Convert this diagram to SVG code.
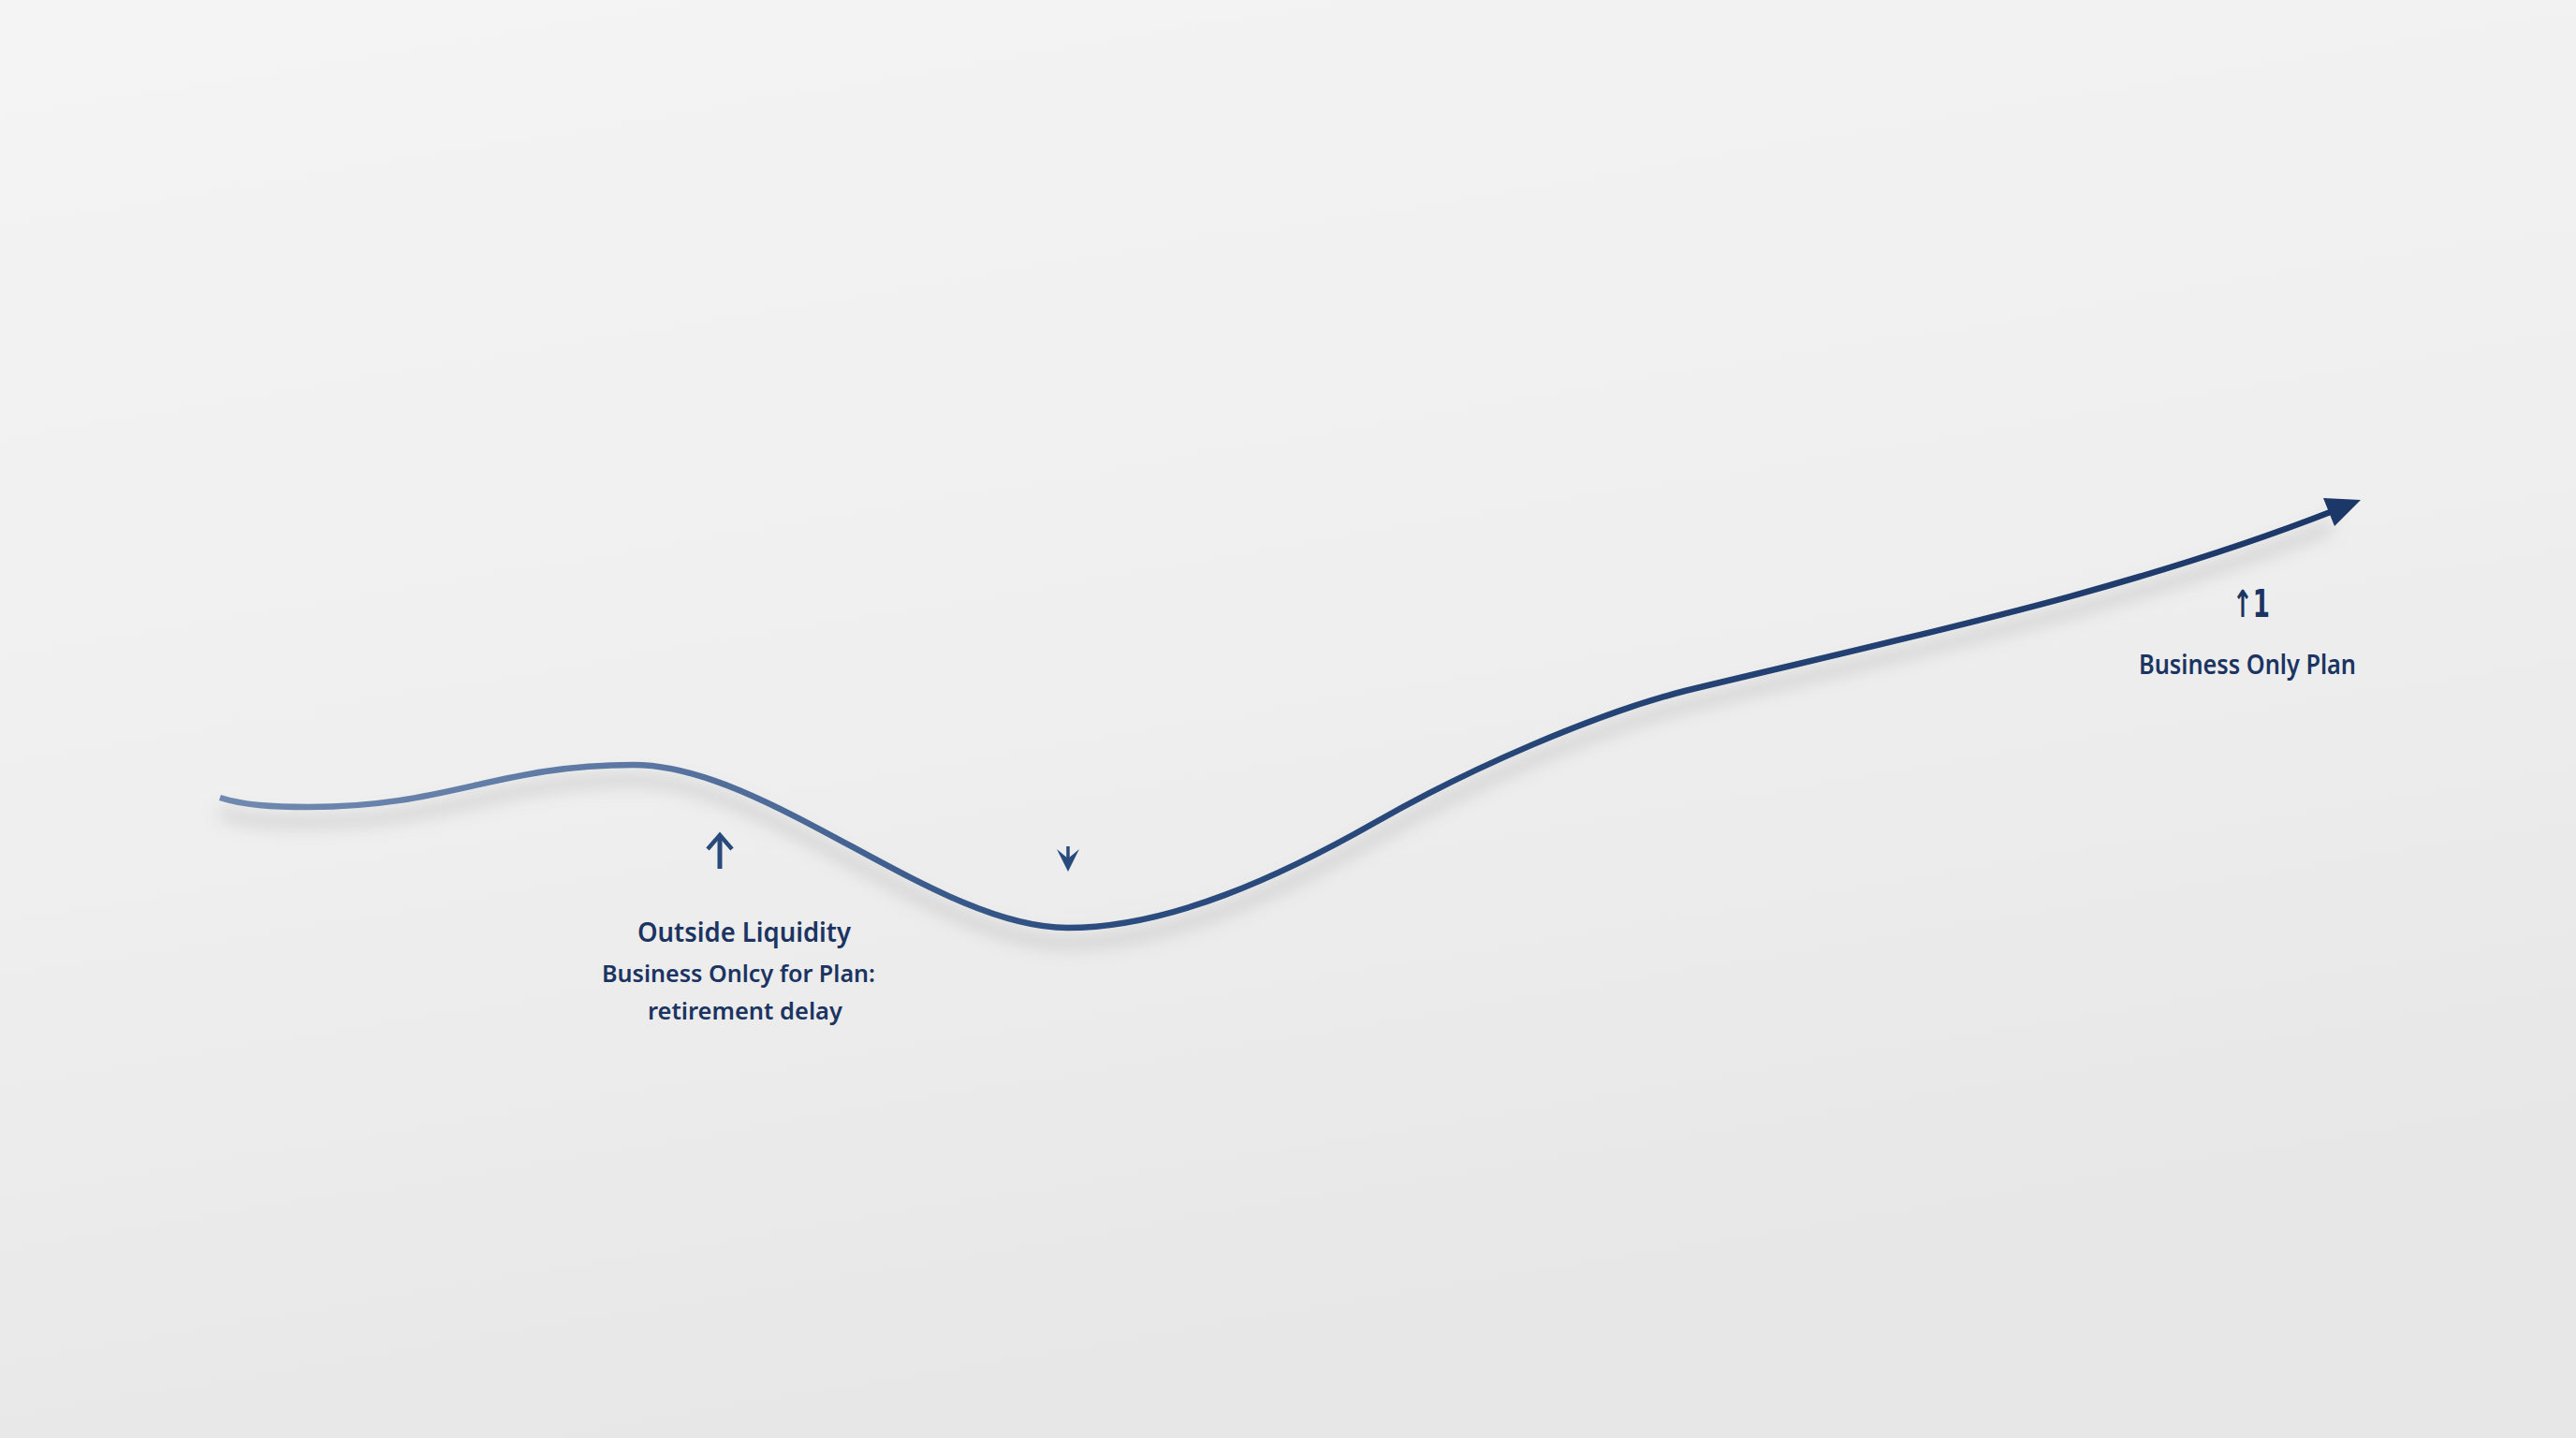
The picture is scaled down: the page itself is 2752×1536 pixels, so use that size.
<svg xmlns="http://www.w3.org/2000/svg" width="2752" height="1536" viewBox="0 0 2752 1536">
  <defs>
    <linearGradient id="bg" x1="0" y1="0" x2="0.3" y2="1">
      <stop offset="0" stop-color="#f4f4f4"/>
      <stop offset="0.55" stop-color="#efefef"/>
      <stop offset="1" stop-color="#e7e7e7"/>
    </linearGradient>
    <linearGradient id="lineGrad" gradientUnits="userSpaceOnUse" x1="235" y1="0" x2="2520" y2="0">
      <stop offset="0" stop-color="#7089b0"/>
      <stop offset="0.2" stop-color="#5a76a2"/>
      <stop offset="0.4" stop-color="#2c4d80"/>
      <stop offset="1" stop-color="#1c3868"/>
    </linearGradient>
    <filter id="shadow" x="-5%" y="-50%" width="110%" height="200%">
      <feGaussianBlur stdDeviation="9"/>
    </filter>
    <style>
      .lbl { font-family: "Noto Sans", "Open Sans", "Liberation Sans", sans-serif; font-weight: 600; fill: #1b3462; text-anchor: middle; }
      .icon { stroke: #284a7c; fill: none; stroke-linecap: butt; }
    </style>
  </defs>

  <rect width="2752" height="1536" fill="url(#bg)"/>

  <g id="connectors">
    <path d="M235 852 C260 860 290 862 330 862 C480 862 530 817 677 817 C820 817 1000 991 1140 991 C1250 991 1370 935 1470 878 C1570 821 1700 764 1800 738 C2040 680 2272 632 2492 546" fill="none" stroke="#8a8a8a" stroke-opacity="0.35" stroke-width="10" transform="translate(0,16)" filter="url(#shadow)"/>
    <path id="trend" d="M235 852 C260 860 290 862 330 862 C480 862 530 817 677 817 C820 817 1000 991 1140 991 C1250 991 1370 935 1470 878 C1570 821 1700 764 1800 738 C2040 680 2272 632 2492 546" fill="none" stroke="url(#lineGrad)" stroke-width="6.5" stroke-linecap="butt"/>
    <polygon points="2522,534 2494,562 2482,532" fill="#1c3868"/>
  </g>

  <g id="node-outside-liquidity">
    <path class="icon" d="M769 928 L769 893" stroke-width="5"/>
    <path class="icon" d="M756 907 L769 892 L782 907" stroke-width="4.5"/>
    <text class="lbl" x="795" y="1006" font-size="29" textLength="228" lengthAdjust="spacingAndGlyphs">Outside Liquidity</text>
    <text class="lbl" x="789" y="1049" font-size="26" textLength="292" lengthAdjust="spacingAndGlyphs">Business Onlcy for Plan:</text>
    <text class="lbl" x="796" y="1089" font-size="26" textLength="208" lengthAdjust="spacingAndGlyphs">retirement delay</text>
  </g>

  <g id="node-dip">
    <path class="icon" d="M1141 904 L1141 918" stroke-width="3.5"/>
    <polygon points="1129,907 1141,931 1153,907 1141,917" fill="#284a7c"/>
  </g>

  <g id="node-business-only-plan">
    <text class="lbl" x="2405" y="659" font-size="40" font-family="'DejaVu Sans', sans-serif" style="font-family:'DejaVu Sans', sans-serif" textLength="40" lengthAdjust="spacingAndGlyphs">↑1</text>
    <text class="lbl" x="2401" y="720" font-size="28" textLength="232" lengthAdjust="spacingAndGlyphs">Business Only Plan</text>
  </g>
</svg>
